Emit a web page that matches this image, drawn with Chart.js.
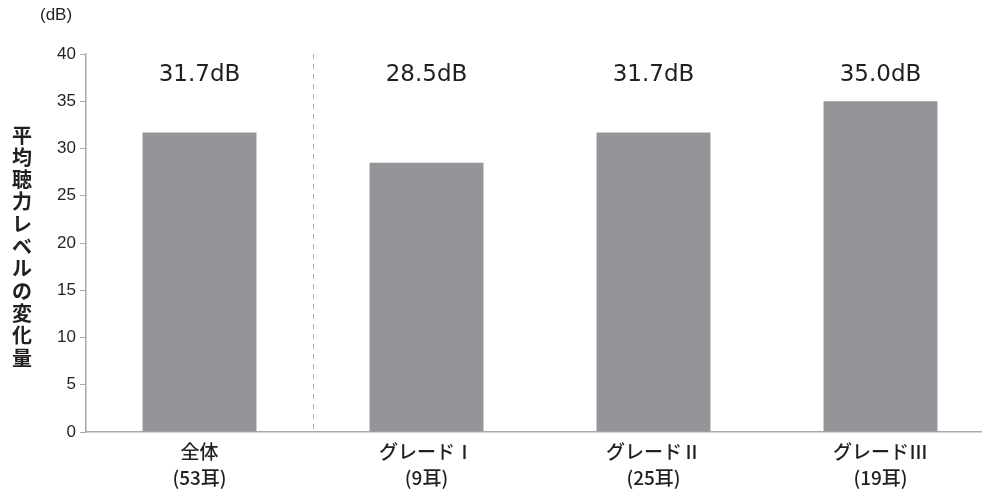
<!DOCTYPE html>
<html><head><meta charset="utf-8">
<script src="https://cdn.jsdelivr.net/npm/chart.js@4"></script>
<style>
html,body{margin:0;padding:0;overflow:hidden;background:#fff;width:982px;height:491px;}
#wrap{position:absolute;left:0;top:0;width:994px;height:491px;}
</style></head>
<body><div id="wrap"><canvas id="c" width="994" height="491"></canvas></div>
<script>
const categories = [["全体","(53耳)"],["グレードⅠ","(9耳)"],["グレードⅡ","(25耳)"],["グレードⅢ","(19耳)"]];
const values = [31.7, 28.5, 31.7, 35.0];
const valueLabels = ["31.7dB","28.5dB","31.7dB","35.0dB"];
const yTicks = [0,5,10,15,20,25,30,35,40];
const yTitle = "平均聴力レベルの変化量";
const unitLabel = "(dB)";

const decor = {
  id:'decor',
  afterDatasetsDraw(chart){
    const ctx = chart.ctx, x = chart.scales.x, a = chart.chartArea;
    ctx.save();
    const dx = Math.round((x.getPixelForValue(0)+x.getPixelForValue(1))/2)+0.5;
    ctx.strokeStyle = '#b0b0b0'; ctx.lineWidth = 1; ctx.setLineDash([5,5]);
    ctx.beginPath(); ctx.moveTo(dx, a.top); ctx.lineTo(dx, a.bottom); ctx.stroke();
    ctx.setLineDash([]);
    ctx.fillStyle = '#231f20';
    ctx.font = '23px "DejaVu Sans", sans-serif';
    ctx.textAlign = 'center'; ctx.textBaseline = 'middle';
    valueLabels.forEach((t,i)=>{ ctx.fillText(t, x.getPixelForValue(i), 75); });
    ctx.font = '17px "Liberation Sans", Arial, sans-serif';
    ctx.textAlign = 'left';
    ctx.fillText(unitLabel, 40, 15);
    ctx.font = 'bold 20px "Noto Sans CJK JP", sans-serif';
    ctx.textAlign = 'center';
    Array.from(yTitle).forEach((ch,i)=>{ ctx.fillText(ch, 22, 135 + i*22.3); });
    ctx.restore();
  }
};

new Chart(document.getElementById('c'), {
  type:'bar',
  data:{ labels: categories, datasets:[{ data: values, backgroundColor:'#939598', borderWidth:0,
    categoryPercentage:1.0, barPercentage:0.502 }]},
  options:{
    responsive:false, animation:false,
    layout:{ padding:{ left:0, right:0, top:54, bottom:0 } },
    plugins:{ legend:{display:false}, tooltip:{enabled:false} },
    scales:{
      x:{
        offset:true,
        grid:{ display:false, drawTicks:false },
        border:{ color:'#a7a9ac', width:1.5 },
        ticks:{ color:'#231f20', padding:7, maxRotation:0, autoSkip:false,
          font:{ family:'"Noto Sans CJK JP", sans-serif', size:19, weight:'500', lineHeight:1.35 } },
        afterFit(s){ s.height = 59; }
      },
      y:{
        min:0, max:40,
        afterBuildTicks(s){ s.ticks = yTicks.map(v=>({value:v})); },
        grid:{ drawOnChartArea:false, drawTicks:true, tickLength:6, color:'#a7a9ac' },
        border:{ color:'#a7a9ac', width:1.5 },
        ticks:{ color:'#231f20', padding:4, font:{ family:'"Liberation Sans", Arial, sans-serif', size:17 } },
        afterFit(s){ s.width = 86; }
      }
    }
  },
  plugins:[decor]
});
</script></body></html>
